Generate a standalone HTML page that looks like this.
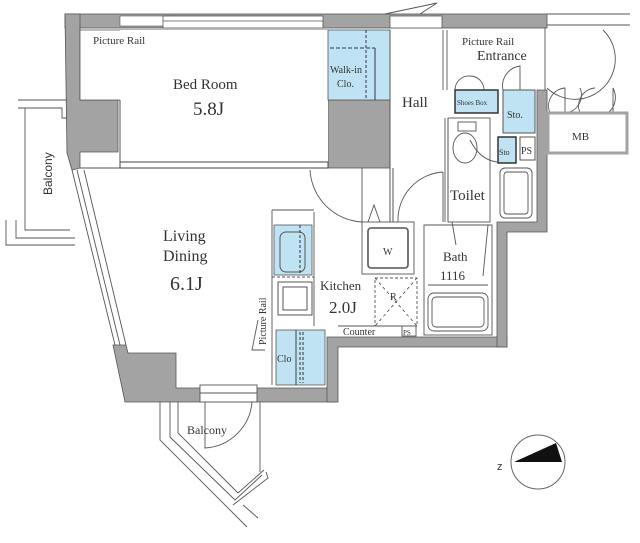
<!DOCTYPE html>
<html><head><meta charset="utf-8"><style>
html,body{margin:0;padding:0;background:#fff;width:640px;height:543px;overflow:hidden}
svg{display:block}
text{font-family:"Liberation Serif",serif;fill:#333}
</style></head><body>
<svg width="640" height="543" viewBox="0 0 640 543" xmlns="http://www.w3.org/2000/svg">
<g fill="#a3a3a3" stroke="#555" stroke-width="0.8">
<rect x="65" y="14" width="482" height="14"/>
<polygon points="65,14 80,14 80,100 118,100 118,152 80,152 80,168 72,170 67,153"/>
<polygon points="113,345 126,345 128,353 176,353 176,388 335,388 335,402 125,402"/>
<polygon points="327,337 507,337 507,347 338,347 338,402 327,402"/>
<polygon points="497,222 537,222 537,90 547,90 547,232 507,232 507,347 497,347"/>
<rect x="328" y="100" width="62" height="68"/>
</g>
<rect x="120" y="16" width="55" height="10" fill="#fff" stroke="#555" stroke-width="0.6"/>
<rect x="163" y="16" width="160" height="12" fill="#fff" stroke="#555" stroke-width="0.8"/>
<line x1="163" y1="21" x2="323" y2="21" stroke="#555" stroke-width="0.8"/>
<rect x="390" y="16" width="52" height="12" fill="#fff" stroke="#555" stroke-width="0.8"/>
<rect x="80" y="30" width="248" height="70" fill="#fff" stroke="#555" stroke-width="0.8"/>
<rect x="120" y="30" width="208" height="134" fill="#fff" stroke="none"/>
<line x1="120" y1="100" x2="120" y2="164" stroke="#555"/>
<rect x="120" y="162" width="208" height="6" fill="#fff" stroke="#444" stroke-width="1"/>
<rect x="328" y="30" width="62" height="70" fill="#bfe3f2" stroke="#555" stroke-width="0.8"/>
<line x1="366" y1="30" x2="366" y2="100" stroke="#335" stroke-dasharray="3,2"/>
<line x1="375" y1="48" x2="375" y2="100" stroke="#335"/>
<line x1="330" y1="48" x2="375" y2="48" stroke="#335" stroke-dasharray="4,2"/>
<line x1="390" y1="30" x2="390" y2="222" stroke="#555"/>
<line x1="393" y1="168" x2="393" y2="222" stroke="#555"/>
<g stroke="#555" fill="none" stroke-width="0.9">
<line x1="72" y1="170" x2="115" y2="345"/>
<line x1="77" y1="170" x2="120" y2="345"/>
<line x1="84" y1="170" x2="126" y2="345"/>
<line x1="80" y1="168" x2="120" y2="168"/>
<polyline points="25,108 25,230 70,230"/>
<polyline points="18,100 67,100"/>
<polyline points="18,108 62,108 62,118 67,118"/>
<polyline points="16,220 16,238 75,238"/>
<polyline points="6,220 6,245 75,245"/>
<polyline points="160,402 160,440 247,527"/>
<polyline points="170,402 170,437 235,500 262,475"/>
<polyline points="178,402 178,433 238,493 264,470"/>
<line x1="260" y1="402" x2="260" y2="472"/>
<polyline points="233,505 268,478 266,472"/>
<line x1="243" y1="505" x2="258" y2="518"/>
<rect x="200" y="385" width="57" height="17" fill="#fff"/>
<line x1="200" y1="393" x2="257" y2="393"/>
<path d="M205,402 L205,448 A50,50 0 0 0 252,402"/>
<path d="M310,170 A55,55 0 0 0 362,222"/>
<line x1="362" y1="168" x2="362" y2="222"/>
<path d="M398,222 A48,48 0 0 1 443,172"/>
<line x1="443" y1="172" x2="443" y2="222"/>
<line x1="445" y1="118" x2="445" y2="222"/>
<line x1="448" y1="118" x2="448" y2="222"/>
<rect x="448" y="118" width="42" height="104"/>
<rect x="500" y="168" width="32" height="50" rx="5"/>
<rect x="504" y="172" width="24" height="42" rx="3"/>
<ellipse cx="465" cy="148" rx="12" ry="15"/>
<rect x="458" y="122" width="18" height="9"/>
<path d="M470,140 Q480,160 497,162"/>
<line x1="443" y1="30" x2="443" y2="90"/>
<line x1="447" y1="30" x2="447" y2="90"/>
<path d="M455,90 A14,14 0 0 1 470,76"/>
<path d="M484,90 A14,14 0 0 0 470,76"/>
<path d="M503,90 A20,20 0 0 1 520,66 L520,90"/>
<line x1="545" y1="28" x2="545" y2="90"/>
<path d="M547,88 A40,40 0 0 0 603,30"/>
<line x1="547" y1="14" x2="630" y2="14"/>
<line x1="547" y1="25" x2="630" y2="25"/>
<path d="M550,113 A18,18 0 0 1 565,88 L565,113"/>
<path d="M565,113 A18,18 0 0 0 580,88"/>
<path d="M580,113 A18,18 0 0 1 595,88"/>
<path d="M608,113 A20,20 0 0 0 613,88 L613,113"/>
<line x1="385" y1="14" x2="437" y2="3"/>
<line x1="420" y1="14" x2="437" y2="3"/>
<rect x="362" y="222" width="52" height="52"/>
<rect x="368" y="228" width="40" height="40" rx="3" stroke-width="1.6"/>
<path d="M368,222 L374,205 L380,222"/>
<rect x="424" y="225" width="68" height="110"/>
<rect x="428" y="293" width="60" height="38" rx="6"/>
<rect x="432" y="297" width="52" height="30" rx="4"/>
<line x1="428" y1="285" x2="488" y2="285"/>
<line x1="425" y1="225" x2="490" y2="225"/>
<line x1="452" y1="222" x2="456" y2="245"/>
<line x1="488" y1="225" x2="483" y2="276"/>
<rect x="375" y="278" width="42" height="48" stroke-dasharray="3,2"/>
<line x1="375" y1="278" x2="417" y2="326" stroke-dasharray="3,3"/>
<line x1="417" y1="278" x2="375" y2="326" stroke-dasharray="3,3"/>
<rect x="402" y="326" width="14" height="10"/>
<line x1="338" y1="326" x2="402" y2="326"/>
<line x1="314" y1="212" x2="314" y2="326"/>
<line x1="272" y1="210" x2="314" y2="210"/>
<line x1="272" y1="210" x2="272" y2="385"/>
<path d="M258,320 L252,350 L265,350"/>
</g>
<rect x="274" y="225" width="38" height="50" fill="#bfe3f2" stroke="#555" stroke-width="0.8"/>
<rect x="280" y="232" width="25" height="40" rx="6" fill="none" stroke="#555"/>
<line x1="300" y1="225" x2="300" y2="275" stroke="#333" stroke-dasharray="3,2"/>
<rect x="278" y="282" width="34" height="33" fill="#fff" stroke="#555"/>
<rect x="283" y="287" width="24" height="23" fill="none" stroke="#555"/>
<line x1="272" y1="277" x2="314" y2="277" stroke="#555" stroke-dasharray="3,2"/>
<rect x="276" y="330" width="49" height="55" fill="#bfe3f2" stroke="#555" stroke-width="0.8"/>
<line x1="296" y1="330" x2="296" y2="385" stroke="#444"/>
<line x1="300" y1="332" x2="300" y2="383" stroke="#333" stroke-dasharray="3,2"/>
<line x1="303" y1="332" x2="303" y2="383" stroke="#333" stroke-dasharray="3,2"/>
<rect x="455" y="90" width="43" height="23" fill="#bfe3f2" stroke="#333" stroke-width="1.5"/>
<rect x="503" y="90" width="32" height="43" fill="#bfe3f2" stroke="#555"/>
<rect x="498" y="137" width="18" height="26" fill="#bfe3f2" stroke="#333" stroke-width="1.5"/>
<rect x="520" y="137" width="15" height="23" fill="#fff" stroke="#555"/>
<rect x="548" y="113" width="79" height="40" fill="#fff" stroke="#a3a3a3" stroke-width="3"/>
<circle cx="538" cy="462" r="27" fill="#fff" stroke="#666" stroke-width="1"/>
<polygon points="514,462 556,443 562,462" fill="#111"/>
<text x="497" y="470" font-size="11" style="font-family:'Liberation Sans',sans-serif">z</text>
<text x="93" y="44" font-size="11">Picture Rail</text>
<text x="173" y="89" font-size="15">Bed Room</text>
<text x="193" y="115" font-size="19">5.8J</text>
<text x="330" y="73" font-size="10" fill="#336">Walk-in</text>
<text x="337" y="87" font-size="10" fill="#336">Clo.</text>
<text x="402" y="107" font-size="15">Hall</text>
<text x="462" y="45" font-size="11">Picture Rail</text>
<text x="477" y="60" font-size="14">Entrance</text>
<text x="457" y="105" font-size="7" fill="#336">Shoes Box</text>
<text x="507" y="118" font-size="10" fill="#336">Sto.</text>
<text x="499" y="155" font-size="8" fill="#336">Sto</text>
<text x="521" y="154" font-size="10">PS</text>
<text x="572" y="140" font-size="11">MB</text>
<text x="450" y="200" font-size="15">Toilet</text>
<text x="443" y="261" font-size="13">Bath</text>
<text x="440" y="280" font-size="13">1116</text>
<text x="383" y="255" font-size="10">W</text>
<text x="390" y="300" font-size="10">R</text>
<text x="163" y="241" font-size="16">Living</text>
<text x="163" y="261" font-size="16">Dining</text>
<text x="170" y="290" font-size="20">6.1J</text>
<text x="320" y="290" font-size="13">Kitchen</text>
<text x="329" y="313" font-size="17">2.0J</text>
<text x="343" y="335" font-size="10">Counter</text>
<text x="403" y="335" font-size="7">PS</text>
<text x="277" y="362" font-size="10" fill="#336">Clo</text>
<text transform="translate(266,345) rotate(-90)" font-size="10">Picture Rail</text>
<text transform="translate(52,195) rotate(-90)" font-size="12" style="font-family:'Liberation Sans',sans-serif">Balcony</text>
<text x="187" y="434" font-size="12">Balcony</text>
</svg>
</body></html>
